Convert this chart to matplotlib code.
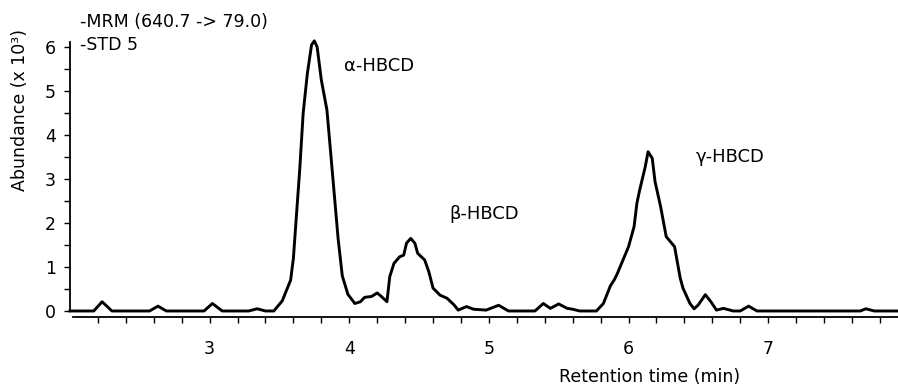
import numpy as np
import matplotlib
matplotlib.use('Agg')
import matplotlib.pyplot as plt
from matplotlib.ticker import FixedLocator, NullFormatter

# retention time (min) and abundance (x 10^3)
rt = [2.00, 2.17, 2.23, 2.30, 2.57, 2.63, 2.69, 2.96, 3.02, 3.09,
      3.28, 3.34, 3.40, 3.46, 3.52, 3.58, 3.60, 3.62, 3.645, 3.67,
      3.70, 3.73, 3.75, 3.77, 3.80, 3.84, 3.86, 3.89, 3.92, 3.95,
      3.99, 4.04, 4.08, 4.11, 4.16, 4.20, 4.23, 4.27, 4.29, 4.32,
      4.36, 4.39, 4.41, 4.44, 4.47, 4.49, 4.54, 4.57, 4.60, 4.65,
      4.70, 4.75, 4.78, 4.84, 4.89, 4.98, 5.07, 5.14, 5.33, 5.39,
      5.44, 5.50, 5.56, 5.60, 5.65, 5.77, 5.82, 5.87, 5.90, 5.92,
      5.95, 6.00, 6.04, 6.06, 6.08, 6.12, 6.14, 6.17, 6.19, 6.23,
      6.27, 6.33, 6.37, 6.39, 6.44, 6.47, 6.50, 6.55, 6.59, 6.63,
      6.68, 6.75, 6.80, 6.86, 6.92, 7.66, 7.70, 7.76, 7.93]
abund = [0.00, 0.00, 0.21, 0.00, 0.00, 0.11, 0.00, 0.00, 0.17, 0.00,
         0.00, 0.05, 0.00, 0.00, 0.23, 0.70, 1.20, 2.10, 3.20, 4.50,
         5.40, 6.05, 6.14, 6.00, 5.25, 4.57, 3.85, 2.75, 1.65, 0.80,
         0.38, 0.17, 0.21, 0.31, 0.33, 0.41, 0.33, 0.21, 0.78, 1.08,
         1.23, 1.27, 1.54, 1.65, 1.54, 1.31, 1.16, 0.89, 0.52, 0.36,
         0.29, 0.14, 0.02, 0.10, 0.04, 0.02, 0.13, 0.00, 0.00, 0.17,
         0.06, 0.16, 0.06, 0.04, 0.00, 0.00, 0.17, 0.57, 0.72, 0.85,
         1.08, 1.46, 1.92, 2.45, 2.75, 3.28, 3.62, 3.47, 2.94, 2.37,
         1.69, 1.46, 0.75, 0.52, 0.17, 0.05, 0.14, 0.37, 0.21, 0.02,
         0.06, 0.00, 0.00, 0.11, 0.00, 0.00, 0.05, 0.00, 0.00]

peak_names = ['\u03b1-HBCD', '\u03b2-HBCD', '\u03b3-HBCD']
peak_label_pos = [(3.96, 5.57), (4.72, 2.2), (6.48, 3.5)]

fs = 12.5
plt.rcParams['font.family'] = ['DejaVu Sans']

fig = plt.figure(figsize=(8.98, 3.87), dpi=100)
ax = fig.add_axes([70/898, 70.3/387, 828/898, 274.7/387])

ax.plot(rt, abund, color='black', linewidth=2.1, solid_joinstyle='round', clip_on=False)

ax.set_xlim(2.0, 7.93)
ax.set_ylim(-0.13, 6.114)

for s in ['top', 'right']:
    ax.spines[s].set_visible(False)
ax.spines['left'].set_bounds(0, 6.114)
ax.spines['bottom'].set_bounds(2.023, 7.93)
ax.spines['left'].set_linewidth(1.3)
ax.spines['bottom'].set_linewidth(1.3)

ax.set_yticks([0, 1, 2, 3, 4, 5, 6])
ax.yaxis.set_minor_locator(FixedLocator([0.5, 1.5, 2.5, 3.5, 4.5, 5.5]))
ax.set_xticks([3, 4, 5, 6, 7])
minor_x = [round(2.2 + 0.2*i, 1) for i in range(29)]
minor_x = [v for v in minor_x if abs(v - round(v)) > 1e-6]
ax.xaxis.set_minor_locator(FixedLocator(minor_x))
ax.xaxis.set_minor_formatter(NullFormatter())

ax.tick_params(axis='y', which='both', direction='out', length=4, width=1, pad=6, labelsize=fs)
ax.tick_params(axis='x', which='both', direction='out', length=4, width=1, pad=13, labelsize=fs)

for name, (x, y) in zip(peak_names, peak_label_pos):
    ax.text(x, y, name, fontsize=13, ha='left', va='center')

fig.text(80/898, 1 - 22/387, '-MRM (640.7 -> 79.0)', fontsize=fs, ha='left', va='center')
fig.text(80/898, 1 - 45/387, '-STD 5', fontsize=fs, ha='left', va='center')
fig.text(20/898, 1 - 110/387, 'Abundance (x 10\u00b3)', fontsize=fs, rotation=90, ha='center', va='center')
fig.text(650/898, 1 - 377/387, 'Retention time (min)', fontsize=fs, ha='center', va='center')

fig.savefig('out.png', dpi=100)
